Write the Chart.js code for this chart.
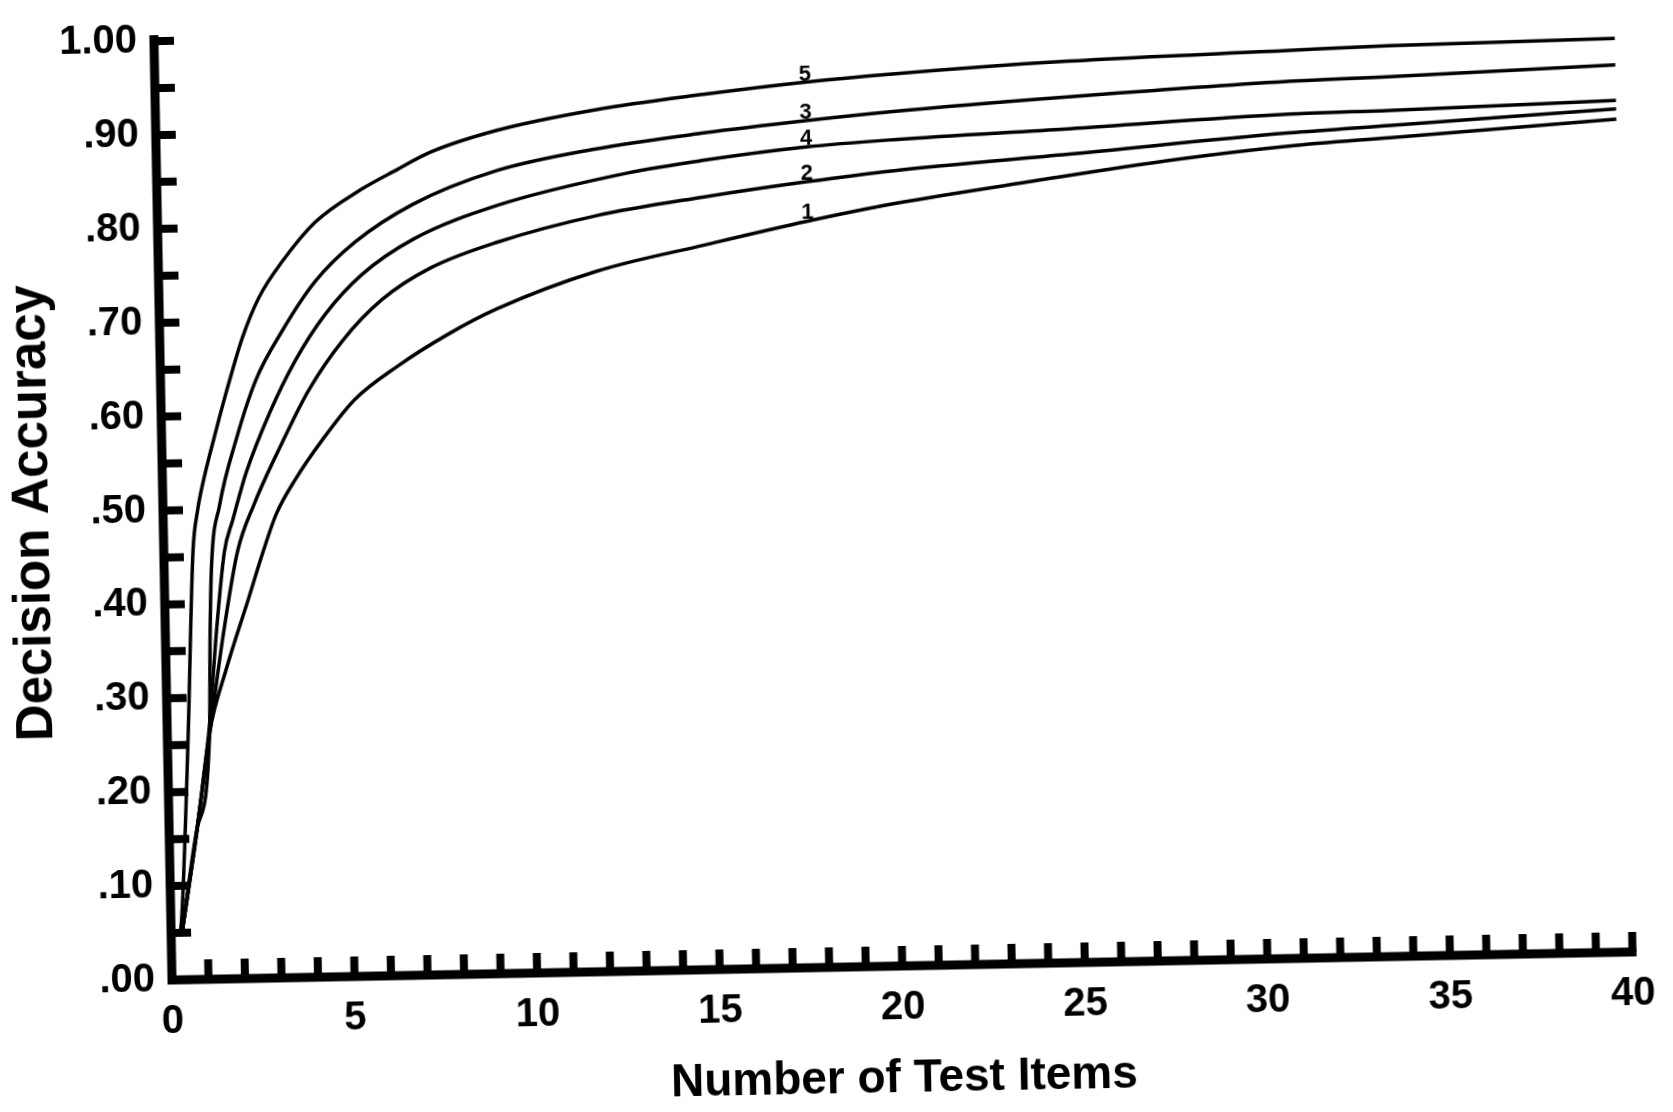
<!DOCTYPE html>
<html>
<head>
<meta charset="utf-8">
<script src="https://cdn.jsdelivr.net/npm/chart.js@4"></script>
<style>
  html, body { margin: 0; padding: 0; background: #fff; overflow: hidden; }
  /* the printed figure sits slightly askew on the page */
  #chart { display: block; transform: rotate(-1.1deg); transform-origin: 172px 980px; }
</style>
</head>
<body>
<canvas id="chart" width="1673" height="1112"></canvas>
<script>
// Curve names, printed just above each line
var curveNames = ['1', '2', '3', '4', '5'];

// Number of test items (x) and decision accuracy (y), one pair per curve
var items1 = [0.3, 0.75, 1.16, 1.65, 2.3, 2.7, 3.1, 3.65, 4.4, 5.3, 6.5, 7.9, 9.25, 12, 15, 17.8, 20.2, 24, 27.9, 31, 33.8, 40];
var acc1   = [0.05, 0.155, 0.263, 0.33, 0.405, 0.452, 0.494, 0.531, 0.572, 0.614, 0.649, 0.682, 0.708, 0.746, 0.772, 0.795, 0.812, 0.833, 0.853, 0.865, 0.872, 0.887];

var items2 = [0.3, 0.75, 1.18, 1.6, 2.02, 2.5, 3.3, 4.05, 5.0, 6.1, 7.46, 9.3, 12, 15, 17.8, 20.2, 25, 31, 33.8, 40];
var acc2   = [0.05, 0.156, 0.266, 0.37, 0.455, 0.505, 0.570, 0.625, 0.677, 0.720, 0.753, 0.779, 0.805, 0.823, 0.837, 0.847, 0.861, 0.879, 0.885, 0.898];

var items3 = [0.3, 0.75, 1.16, 1.22, 1.3, 1.55, 2.04, 2.61, 3.36, 4.29, 5.4, 7.0, 9.3, 12, 15, 17.8, 20.2, 25, 31, 33.8, 40];
var acc3   = [0.05, 0.158, 0.263, 0.36, 0.44, 0.504, 0.574, 0.637, 0.689, 0.741, 0.782, 0.821, 0.855, 0.876, 0.891, 0.902, 0.910, 0.922, 0.934, 0.937, 0.945];

var items4 = [0.3, 0.75, 1.16, 1.4, 1.66, 1.9, 2.3, 2.96, 3.7, 4.55, 5.56, 7.0, 9.3, 12.9, 15, 17.8, 20.2, 25, 31, 33.8, 40];
var acc4   = [0.05, 0.157, 0.27, 0.37, 0.455, 0.488, 0.539, 0.601, 0.657, 0.706, 0.747, 0.784, 0.818, 0.850, 0.862, 0.874, 0.880, 0.888, 0.899, 0.901, 0.907];

var items5 = [0.25, 0.3, 0.57, 0.8, 0.95, 1.11, 1.5, 1.89, 2.27, 2.74, 3.4, 4.32, 5.6, 6.6, 7.5, 9.34, 12.07, 15, 17.8, 20.2, 25, 31.1, 33.8, 40];
var acc5   = [0.05, 0.066, 0.259, 0.456, 0.50, 0.529, 0.585, 0.637, 0.683, 0.725, 0.763, 0.804, 0.838, 0.8585, 0.876, 0.898, 0.918, 0.932, 0.943, 0.950, 0.960, 0.967, 0.970, 0.973];

// where along x the curve names are printed
var nameAt = 17.8;

var seriesItems = [items1, items2, items3, items4, items5];
var seriesAcc = [acc1, acc2, acc3, acc4, acc5];

function toPoints(xs, ys) {
    var pts = [];
    for (var i = 0; i < xs.length; i++) {
        pts.push({x: xs[i], y: ys[i]});
    }
    return pts;
}

var datasets = [];
for (var i = 0; i < curveNames.length; i++) {
    datasets.push({
        label: curveNames[i],
        data: toPoints(seriesItems[i], seriesAcc[i]),
        borderColor: '#000',
        borderWidth: 3.5,
        pointRadius: 0,
        fill: false,
        cubicInterpolationMode: 'monotone'
    });
}

// Heavy axes with short inward tick marks
var axisPlugin = {
    id: 'axisLines',
    beforeDatasetsDraw: function(chart) {
        var ctx = chart.ctx;
        var sx = chart.scales.x, sy = chart.scales.y;
        var x0 = sx.getPixelForValue(0), xEnd = sx.getPixelForValue(40);
        var y0 = sy.getPixelForValue(0), yTop = sy.getPixelForValue(1);
        ctx.save();
        ctx.strokeStyle = '#000';
        ctx.lineCap = 'butt';
        ctx.lineWidth = 9;
        ctx.beginPath();
        ctx.moveTo(x0, y0 + 4.5);
        ctx.lineTo(x0, yTop - 6);
        ctx.moveTo(x0 - 4.5, y0);
        ctx.lineTo(xEnd + 4, y0);
        ctx.stroke();

        ctx.lineWidth = 8;
        ctx.beginPath();
        for (var k = 1; k <= 20; k++) {
            var py = sy.getPixelForValue(k * 0.05);
            ctx.moveTo(x0, py);
            ctx.lineTo(x0 + 20, py);
        }
        for (var n = 1; n <= 40; n++) {
            var px = sx.getPixelForValue(n);
            ctx.moveTo(px, y0);
            ctx.lineTo(px, y0 - 20);
        }
        ctx.stroke();
        ctx.restore();
    }
};

// Curve numbers sitting on the lines
var namePlugin = {
    id: 'curveNames',
    afterDatasetsDraw: function(chart) {
        var ctx = chart.ctx;
        ctx.save();
        ctx.fillStyle = '#000';
        ctx.font = 'bold 22px "Liberation Sans", Arial, sans-serif';
        ctx.textAlign = 'center';
        ctx.textBaseline = 'alphabetic';
        for (var d = 0; d < chart.data.datasets.length; d++) {
            var meta = chart.getDatasetMeta(d);
            var idx = seriesItems[d].indexOf(nameAt);
            if (idx < 0) continue;
            var pt = meta.data[idx];
            ctx.fillText(curveNames[d], pt.x, pt.y - 2);
        }
        ctx.restore();
    }
};

Chart.defaults.font.family = '"Liberation Sans", Arial, sans-serif';
Chart.defaults.color = '#000';

var tickFont = {size: 40, weight: 'bold'};

var ctx = document.getElementById('chart').getContext('2d');
var chart = new Chart(ctx, {
    type: 'line',
    data: {datasets: datasets},
    options: {
        responsive: false,
        animation: false,
        devicePixelRatio: 1,
        layout: {padding: {left: 0, top: 30, right: 26, bottom: 0}},
        plugins: {
            legend: {display: false},
            tooltip: {enabled: false}
        },
        scales: {
            x: {
                type: 'linear',
                min: 0,
                max: 40,
                grid: {display: false, drawTicks: false},
                border: {display: false},
                ticks: {stepSize: 5, font: tickFont, padding: 18, maxRotation: 0, autoSkip: false},
                title: {
                    display: true,
                    text: 'Number of Test Items',
                    font: {size: 46, weight: 'bold', lineHeight: 1},
                    padding: {top: 0, bottom: -4}
                },
                afterFit: function(scale) { scale.height = 132; }
            },
            y: {
                min: 0,
                max: 1,
                grid: {display: false, drawTicks: false},
                border: {display: false},
                ticks: {
                    stepSize: 0.1,
                    font: tickFont,
                    padding: 17,
                    autoSkip: false,
                    callback: function(v) {
                        var c = Math.round(v * 100);
                        if (c === 100) return '1.00';
                        return '.' + (c < 10 ? '0' : '') + c;
                    }
                },
                title: {
                    display: true,
                    text: 'Decision Accuracy',
                    font: {size: 51, weight: 'bold'},
                    padding: {top: 12, bottom: 0}
                },
                afterFit: function(scale) { scale.width = 172; }
            }
        }
    },
    plugins: [axisPlugin, namePlugin]
});
</script>
</body>
</html>
